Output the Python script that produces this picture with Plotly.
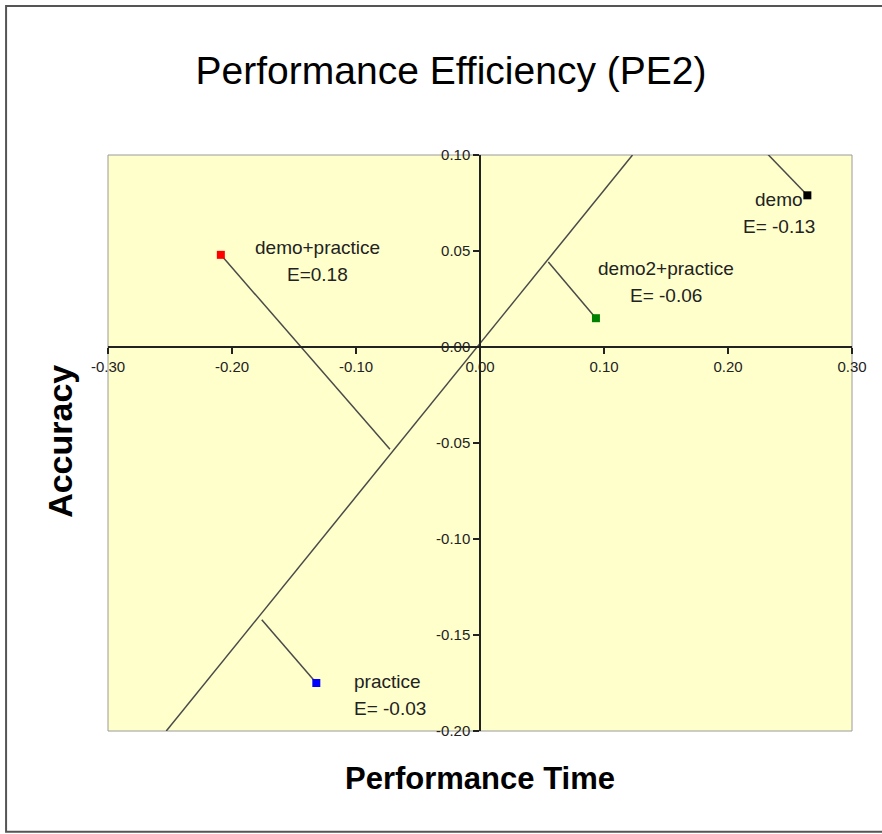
import plotly.graph_objects as go

# ---- data ----
names = ["demo+practice", "demo", "demo2+practice", "practice"]
e_labels = ["E=0.18", "E= -0.13", "E= -0.06", "E= -0.03"]
perf_time = [-0.209, 0.264, 0.0935, -0.132]
accuracy = [0.048, 0.079, 0.015, -0.175]
foot_time = [-0.0726, 0.173, 0.0551, -0.176]
foot_acc = [-0.0533, 0.140, 0.0443, -0.142]
colors = ["#FF0000", "#000000", "#008000", "#0000FF"]
diag_time = [-0.253, 0.123]
diag_acc = [-0.20, 0.10]
x_ticks = [-0.30, -0.20, -0.10, 0.00, 0.10, 0.20, 0.30]
x_tick_text = ["-0.30", "-0.20", "-0.10", "0.00", "0.10", "0.20", "0.30"]
y_ticks = [-0.20, -0.15, -0.10, -0.05, 0.00, 0.05, 0.10]
y_tick_text = ["-0.20", "-0.15", "-0.10", "-0.05", "0.00", "0.05", "0.10"]

# label placement (pixel offsets from the point), style only
label_style = [
    dict(xshift=97, yshift=-6, xanchor="center"),
    dict(xshift=-28, yshift=-18, xanchor="center"),
    dict(xshift=70, yshift=36, xanchor="center"),
    dict(xshift=36, yshift=-12, xanchor="left"),
]

FONT = "Liberation Sans, Arial, sans-serif"
LINE = "#4a4a4a"

fig = go.Figure()

# diagonal reference line
fig.add_trace(go.Scatter(x=diag_time, y=diag_acc, mode="lines",
                         line=dict(color=LINE, width=1.5), showlegend=False,
                         hoverinfo="skip"))

# perpendicular segments
for i in range(len(names)):
    fig.add_trace(go.Scatter(x=[perf_time[i], foot_time[i]], y=[accuracy[i], foot_acc[i]],
                             mode="lines", line=dict(color=LINE, width=1.5),
                             showlegend=False, hoverinfo="skip"))

# points
fig.add_trace(go.Scatter(x=perf_time, y=accuracy, mode="markers",
                         marker=dict(symbol="square", size=8, color=colors,
                                     line=dict(width=0)),
                         showlegend=False, text=names))

annotations = []
for i in range(len(names)):
    st = label_style[i]
    for txt, dy in ((names[i], 13.5), (e_labels[i], -13.5)):
        annotations.append(dict(x=perf_time[i], y=accuracy[i], xref="x", yref="y",
                                text=txt, showarrow=False, xanchor=st["xanchor"],
                                yanchor="middle", xshift=st["xshift"],
                                yshift=st["yshift"] + dy,
                                font=dict(family=FONT, size=19, color="#222222")))

annotations.append(dict(x=0.5, y=-0.0833, xref="paper", yref="paper",
                        text="<b>Performance Time</b>", showarrow=False,
                        xanchor="center", yanchor="middle",
                        font=dict(family=FONT, size=31, color="#000000")))
annotations.append(dict(x=-0.0645, y=0.502, xref="paper", yref="paper",
                        text="<b>Accuracy</b>", showarrow=False, textangle=-90,
                        xanchor="center", yanchor="middle",
                        font=dict(family=FONT, size=34, color="#000000")))

shapes = [
    # plot area border
    dict(type="rect", xref="paper", yref="paper", x0=0, x1=1, y0=0, y1=1,
         line=dict(color="#9a9a9a", width=1), layer="below"),
    # chart area border
    dict(type="rect", xref="paper", yref="paper", x0=-0.137, x1=1.07,
         y0=-0.175, y1=1.2587, line=dict(color="#555555", width=2)),
]

fig.update_layout(
    width=882, height=834,
    margin=dict(l=108, r=30, t=155, b=103),
    paper_bgcolor="white",
    plot_bgcolor="#FFFFCC",
    title=dict(text="Performance Efficiency (PE2)", x=451/882, xref="container",
               y=1 - 70/834, yref="container", xanchor="center", yanchor="middle",
               font=dict(family=FONT, size=39, color="#000000")),
    xaxis=dict(range=[-0.30, 0.30], tickvals=x_ticks, ticktext=x_tick_text,
               showgrid=False, zeroline=False, showline=True,
               linecolor="#222222", linewidth=1.5, ticks="outside", ticklen=6,
               tickcolor="#222222", tickwidth=1.5, anchor="free", position=2/3,
               tickfont=dict(family=FONT, size=15, color="#222222")),
    yaxis=dict(range=[-0.20, 0.10], tickvals=y_ticks, ticktext=y_tick_text,
               showgrid=False, zeroline=False, showline=True,
               linecolor="#222222", linewidth=1.5, ticks="outside", ticklen=6,
               tickcolor="#222222", tickwidth=1.5, anchor="free", position=0.5,
               tickfont=dict(family=FONT, size=15, color="#222222")),
    annotations=annotations,
    shapes=shapes,
)

fig.write_html("out.html", config={"displayModeBar": False},
               post_script="document.body.style.margin='0';document.body.style.overflow='hidden';")
